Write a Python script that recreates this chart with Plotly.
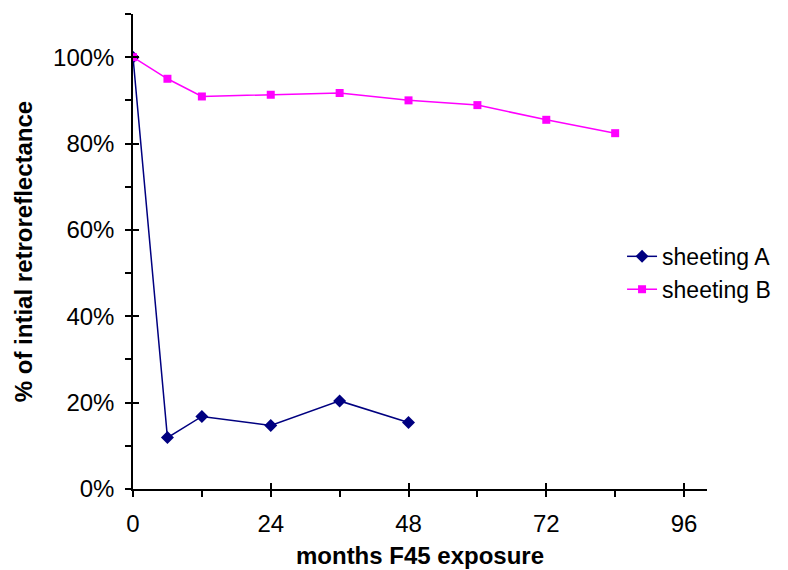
import plotly.graph_objects as go

months_a = [0, 6, 12, 24, 36, 48]
sheeting_a = [1.00, 0.119, 0.168, 0.147, 0.204, 0.154]
months_b = [0, 6, 12, 24, 36, 48, 60, 72, 84]
sheeting_b = [1.00, 0.950, 0.909, 0.913, 0.917, 0.900, 0.889, 0.855, 0.824]
x_ticks = [0, 24, 48, 72, 96]
y_ticks = [0, 0.2, 0.4, 0.6, 0.8, 1.0]

FONT = "Liberation Sans, Arial, sans-serif"
FS = 24

fig = go.Figure()
fig.add_trace(go.Scatter(x=months_a, y=sheeting_a, name="sheeting A", mode="lines+markers",
                         line=dict(color="#000080", width=1.5),
                         marker=dict(symbol="diamond", size=10, color="#000080")))
fig.add_trace(go.Scatter(x=months_b, y=sheeting_b, name="sheeting B", mode="lines+markers",
                         line=dict(color="#FF00FF", width=1.5),
                         marker=dict(symbol="square", size=8, color="#FF00FF")))

fig.update_layout(
    width=788, height=570,
    margin=dict(l=125, r=89, t=6, b=89, autoexpand=False),
    paper_bgcolor="white", plot_bgcolor="white",
    font=dict(family=FONT, size=FS, color="black"),
    showlegend=True,
    legend=dict(x=0.852, y=0.455, xanchor="left", yanchor="middle", itemwidth=30,
                font=dict(family=FONT, size=23, color="black"),
                bgcolor="rgba(0,0,0,0)", tracegroupgap=0),
    xaxis=dict(range=[0, 100], tickvals=x_ticks, ticktext=[str(v) for v in x_ticks],
               automargin=False, ticklabelstandoff=6,
               showgrid=False, zeroline=False, showline=True, linecolor="black", linewidth=1.5,
               ticks="outside", ticklen=6, tickwidth=1.5, tickcolor="black",
               minor=dict(dtick=12, tick0=0, ticks="outside", ticklen=6, tickwidth=1.5, tickcolor="black"),
               tickfont=dict(size=FS),
               title=dict(text="<b>months F45 exposure</b>", font=dict(size=FS), standoff=12)),
    yaxis=dict(range=[0, 1.1], tickvals=y_ticks, tickformat=".0%",
               automargin=False, ticklabelstandoff=6,
               showgrid=False, zeroline=False, showline=True, linecolor="black", linewidth=1.5,
               ticks="outside", ticklen=6, tickwidth=1.5, tickcolor="black",
               minor=dict(dtick=0.1, tick0=0, ticks="outside", ticklen=6, tickwidth=1.5, tickcolor="black"),
               tickfont=dict(size=FS),
               title=dict(text="<b>% of intial retroreflectance</b>", font=dict(size=FS), standoff=14)),
    xaxis2=dict(overlaying="x", matches="x", range=[0, 100], tickvals=x_ticks, showticklabels=False,
                automargin=False,
                ticks="inside", ticklen=6, tickwidth=1.5, tickcolor="black",
                showgrid=False, zeroline=False, showline=False, side="bottom"),
    yaxis2=dict(overlaying="y", matches="y", range=[0, 1.1], tickvals=y_ticks,
                automargin=False,
                showticklabels=False, ticks="inside", ticklen=6, tickwidth=1.5, tickcolor="black",
                showgrid=False, zeroline=False, showline=False, side="left"),
)
# invisible trace to activate the overlay axes (cross ticks)
fig.add_trace(go.Scatter(x=[None], y=[None], xaxis="x2", yaxis="y2", showlegend=False, hoverinfo="skip"))

fig.write_html("out.html")
